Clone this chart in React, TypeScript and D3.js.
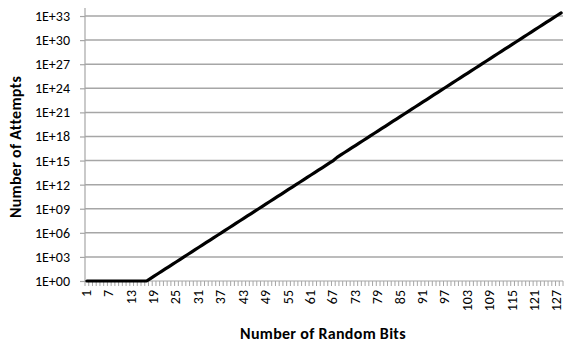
import React, { useEffect, useRef } from 'react';
import * as d3 from 'd3';

// number of random bits: 1..128
const bits: number[] = d3.range(1, 129);

// log10 of the number of attempts (flat until 17 bits)
const attemptsLog10: number[] = [
  0, 0, 0, 0, 0, 0, 0, 0, 0, 0, 0, 0, 0, 0, 0, 0, 0,
  0.3, 0.6, 0.9, 1.2, 1.5, 1.8, 2.1, 2.4, 2.7, 3.0,
  3.3, 3.6, 3.9, 4.2, 4.5, 4.8, 5.1, 5.4, 5.7, 6.0,
  6.3, 6.6, 6.9, 7.2, 7.5, 7.8, 8.1, 8.4, 8.7, 9.0,
  9.3, 9.6, 9.9, 10.2, 10.5, 10.8, 11.1, 11.4, 11.7, 12.0,
  12.3, 12.6, 12.9, 13.2, 13.5, 13.8, 14.1, 14.4, 14.7, 15.0,
  15.4, 15.7, 16.0, 16.3, 16.6, 16.9, 17.2, 17.5, 17.8, 18.1,
  18.4, 18.7, 19.0, 19.3, 19.6, 19.9, 20.2, 20.5, 20.8, 21.1,
  21.4, 21.7, 22.0, 22.3, 22.6, 22.9, 23.2, 23.5, 23.8, 24.1,
  24.4, 24.7, 25.0, 25.3, 25.6, 25.9, 26.2, 26.5, 26.8, 27.1,
  27.4, 27.7, 28.0, 28.3, 28.6, 28.9, 29.2, 29.5, 29.8, 30.1,
  30.4, 30.7, 31.0, 31.3, 31.6, 31.9, 32.2, 32.5, 32.8, 33.1,
  33.4,
];

const yTicks: number[] = [1e0, 1e3, 1e6, 1e9, 1e12, 1e15, 1e18, 1e21, 1e24, 1e27, 1e30, 1e33];
const xTickLabels: number[] = [1, 7, 13, 19, 25, 31, 37, 43, 49, 55, 61, 67, 73, 79, 85, 91, 97, 103, 109, 115, 121, 127];

const FONT = 'Calibri, Carlito, Lato, sans-serif';

const fmtExp = (v: number) => {
  const e = Math.round(Math.log10(v));
  return `1E+${e < 10 ? '0' + e : e}`;
};

export default function App() {
  const node = useRef<SVGSVGElement | null>(null);

  useEffect(() => {
    const svg = d3.select(node.current);
    svg.selectAll('*').remove();

    const left = 85, right = 563, top = 8, bottom = 281;

    const xScale = d3
      .scaleBand<number>()
      .domain(bits)
      .range([left, right])
      .padding(0);
    const yScale = d3
      .scaleLog()
      .domain([1, 1e34])
      .range([bottom, top]);

    // gridlines
    svg
      .append('g')
      .selectAll('line')
      .data(yTicks.slice(1))
      .enter()
      .append('line')
      .attr('x1', left)
      .attr('x2', right)
      .attr('y1', d => yScale(d))
      .attr('y2', d => yScale(d))
      .attr('stroke', '#a6a6a6')
      .attr('stroke-width', 1.5);

    // y axis
    const yAxisGroup = svg
      .append('g')
      .attr('transform', `translate(${left},0)`);
    yAxisGroup.call(
      d3
        .axisLeft(yScale)
        .tickValues(yTicks)
        .tickSize(5)
        .tickPadding(10)
        .tickFormat(d => fmtExp(d as number))
    );
    yAxisGroup.select('.domain').attr('stroke', '#a6a6a6').attr('stroke-width', 1.2)
      .attr('d', `M0,${top}V${bottom}`);
    yAxisGroup.selectAll('.tick line').attr('stroke', '#a6a6a6').attr('stroke-width', 1.2);
    yAxisGroup
      .selectAll('.tick text')
      .attr('fill', '#000')
      .style('font-family', FONT)
      .style('font-size', '14px');

    // x axis: a tick at every category boundary
    const xg = svg.append('g');
    xg.append('line')
      .attr('x1', left)
      .attr('x2', right)
      .attr('y1', bottom)
      .attr('y2', bottom)
      .attr('stroke', '#a6a6a6')
      .attr('stroke-width', 1.2);
    xg.selectAll('line.tk')
      .data(bits.concat([129]))
      .enter()
      .append('line')
      .attr('class', 'tk')
      .attr('x1', d => (d <= 128 ? (xScale(d) as number) : right))
      .attr('x2', d => (d <= 128 ? (xScale(d) as number) : right))
      .attr('y1', bottom)
      .attr('y2', bottom + 5)
      .attr('stroke', '#a6a6a6')
      .attr('stroke-width', 1);
    xg.selectAll('text')
      .data(xTickLabels)
      .enter()
      .append('text')
      .attr(
        'transform',
        d => `translate(${(xScale(d) as number) + xScale.bandwidth() / 2 + 4},${bottom + 9}) rotate(-90)`
      )
      .attr('text-anchor', 'end')
      .attr('fill', '#000')
      .style('font-family', FONT)
      .style('font-size', '14px')
      .text(d => d);

    // line
    const line = d3
      .line<number>()
      .x((d, i) => (xScale(bits[i]) as number) + xScale.bandwidth() / 2)
      .y(d => yScale(Math.pow(10, d)));
    svg
      .append('path')
      .datum(attemptsLog10)
      .attr('fill', 'none')
      .attr('stroke', '#000')
      .attr('stroke-width', 3.2)
      .attr('stroke-linejoin', 'round')
      .attr('stroke-linecap', 'round')
      .attr('d', line);

    // axis titles
    svg
      .append('text')
      .attr('x', 323)
      .attr('y', 339)
      .attr('text-anchor', 'middle')
      .style('font-family', FONT)
      .style('font-size', '16px')
      .style('font-weight', 'bold')
      .style('letter-spacing', '0.3px')
      .text('Number of Random Bits');
    svg
      .append('text')
      .attr('transform', 'translate(21,147) rotate(-90)')
      .attr('text-anchor', 'middle')
      .style('font-family', FONT)
      .style('font-size', '16px')
      .style('font-weight', 'bold')
      .style('letter-spacing', '0.3px')
      .text('Number of Attempts');
  }, []);

  return (
    <svg
      ref={node}
      width={564}
      height={347}
      style={{ position: 'absolute', left: 0, top: 0, background: '#fff' }}
    />
  );
}
